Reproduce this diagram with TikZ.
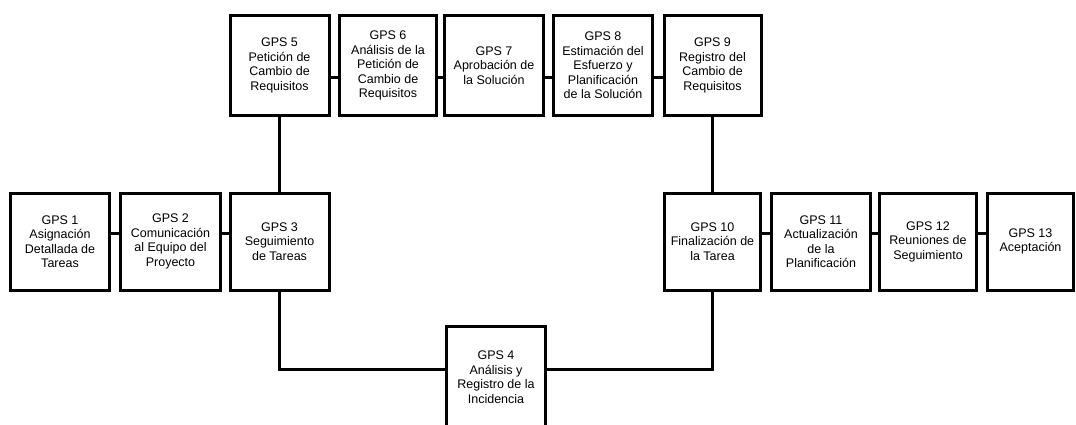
\documentclass[tikz,border=0pt]{standalone}
\usepackage{fontspec}
\setmainfont{Liberation Sans}
\begin{document}
\begin{tikzpicture}[x=1pt,y=-1pt,
  gps/.style={draw=black, line width=3pt, fill=white, inner sep=0pt,
    minimum height=97pt, align=center,
    font=\fontsize{12.5}{14.5}\selectfont},
  link/.style={draw=black, line width=3pt}]
\useasboundingbox (0,0) rectangle (1076,425);
\clip (0,0) rectangle (1076,425);
\fill[white] (0,0) rectangle (1076,425);
% middle row
\node[gps, minimum width=99pt] (b1) at (60,241.5) {GPS 1\\Asignación\\Detallada de\\Tareas};
\node[gps, minimum width=100pt] (b2) at (170.5,241.5) {GPS 2\\Comunicación\\al Equipo del\\Proyecto};
\node[gps, minimum width=99pt] (b3) at (279.5,241.5) {GPS 3\\Seguimiento\\de Tareas};
\node[gps, minimum width=96pt] (b10) at (712.5,241.5) {GPS 10\\Finalización de\\la Tarea};
\node[gps, minimum width=99pt] (b11) at (821,241.5) {GPS 11\\Actualización\\de la\\Planificación};
\node[gps, minimum width=97pt] (b12) at (928,241.5) {GPS 12\\Reuniones de\\Seguimiento};
\node[gps, minimum width=86pt] (b13) at (1030.5,241.5) {GPS 13\\Aceptación};
% top row
\node[gps, minimum width=99pt, minimum height=100pt] (b5) at (279.5,65.5) {GPS 5\\Petición de\\Cambio de\\Requisitos};
\node[gps, minimum width=97pt, minimum height=100pt] (b6) at (388,65.5) {GPS 6\\Análisis de la\\Petición de\\Cambio de\\Requisitos};
\node[gps, minimum width=99pt, minimum height=100pt] (b7) at (494,65.5) {GPS 7\\Aprobación de\\la Solución};
\node[gps, minimum width=99pt, minimum height=100pt] (b8) at (603,65.5) {GPS 8\\Estimación del\\Esfuerzo y\\Planificación\\de la Solución};
\node[gps, minimum width=97pt, minimum height=100pt] (b9) at (712.5,65.5) {GPS 9\\Registro del\\Cambio de\\Requisitos};
% bottom
\node[gps, minimum width=99pt, minimum height=101pt] (b4) at (496,377) {GPS 4\\Análisis y\\Registro de la\\Incidencia};
% connectors middle row
\draw[link] ([yshift=8.5pt]b1.east) -- ([yshift=8.5pt]b2.west);
\draw[link] ([yshift=8.5pt]b2.east) -- ([yshift=8.5pt]b3.west);
\draw[link] ([yshift=8.5pt]b10.east) -- ([yshift=8.5pt]b11.west);
\draw[link] ([yshift=8.5pt]b11.east) -- ([yshift=8.5pt]b12.west);
\draw[link] ([yshift=8.5pt]b12.east) -- ([yshift=8.5pt]b13.west);
% connectors top row
\draw[link] ([yshift=-12.5pt]b5.east) -- ([yshift=-12.5pt]b6.west);
\draw[link] ([yshift=-12.5pt]b6.east) -- ([yshift=-12.5pt]b7.west);
\draw[link] ([yshift=-12.5pt]b7.east) -- ([yshift=-12.5pt]b8.west);
\draw[link] ([yshift=-12.5pt]b8.east) -- ([yshift=-12.5pt]b9.west);
% verticals
\draw[link] (b5.south) -- (b3.north);
\draw[link] (b9.south) -- (b10.north);
% to GPS 4
\draw[link] (b3.south) |- ([yshift=8pt]b4.west);
\draw[link] (b10.south) |- ([yshift=8pt]b4.east);
\end{tikzpicture}
\end{document}
